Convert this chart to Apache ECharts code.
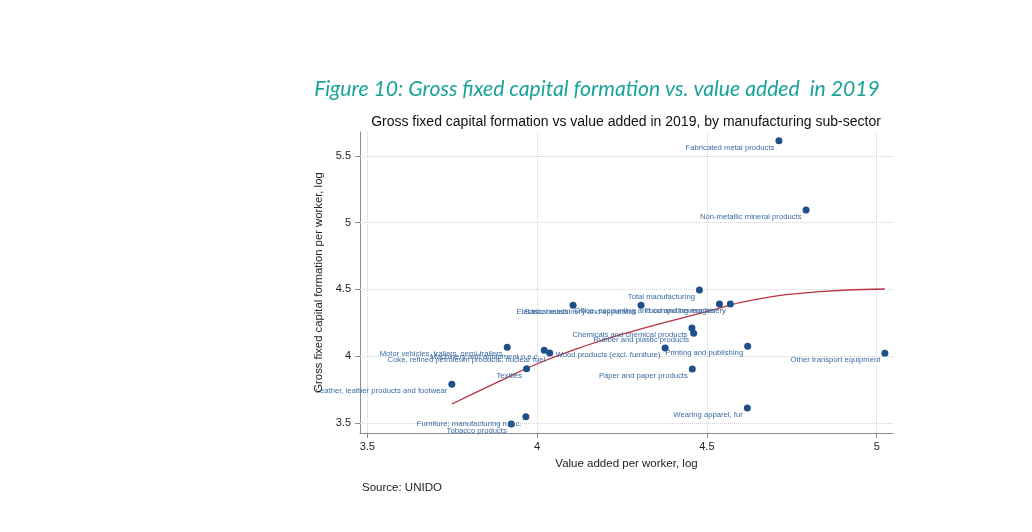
<!DOCTYPE html>
<html>
<head>
<meta charset="utf-8">
<script src="https://cdn.jsdelivr.net/npm/echarts@6/dist/echarts.min.js"></script>
<style>
  html, body { margin: 0; padding: 0; background: #fff; }
  #chart { width: 1032px; height: 532px; }
</style>
</head>
<body>
<div id="chart"></div>
<script>
// sub-sectors (log values)
const sectors = [
    'Total manufacturing',
    'Basic metals',
    'Electrical machinery and apparatus',
    'Food and beverages',
    'Office, accounting and computing machinery',
    'Chemicals and chemical products',
    'Rubber and plastic products',
    'Wood products (excl. furniture)',
    'Printing and publishing',
    'Paper and paper products',
    'Wearing apparel, fur',
    'Textiles',
    'Leather, leather products and footwear',
    'Furniture; manufacturing n.e.c.',
    'Tobacco products',
    'Motor vehicles, trailers, semi-trailers',
    'Machinery and equipment n.e.c.',
    'Coke, refined petroleum products, nuclear fuel',
    'Fabricated metal products',
    'Non-metallic mineral products',
    'Other transport equipment'
];
const valueAdded = [4.478, 4.106, 4.306, 4.537, 4.569, 4.456, 4.461, 4.377, 4.620, 4.457, 4.619,
    3.969, 3.749, 3.967, 3.924, 3.912, 4.021, 4.037, 4.712, 4.792, 5.024];
const capitalFormation = [4.496, 4.381, 4.381, 4.391, 4.391, 4.211, 4.171, 4.061, 4.074, 3.904, 3.612,
    3.906, 3.790, 3.547, 3.493, 4.067, 4.044, 4.024, 5.613, 5.094, 4.022];

// fitted curve, points
const fitX = [3.749, 3.876, 4.004, 4.121, 4.259, 4.499, 4.637, 4.833, 5.024];
const fitY = [3.642, 3.797, 3.947, 4.059, 4.171, 4.333, 4.421, 4.483, 4.503];

const xTicks = [3.5, 4, 4.5, 5];
const yTicks = [3.5, 4, 4.5, 5, 5.5];

const font = 'Liberation Sans, Arial, sans-serif';
const axisGray = '#8c8c8c';

let myChart = echarts.init(document.getElementById('chart'));

let option = {
    animation: false,
    backgroundColor: '#fff',
    textStyle: { fontFamily: font },
    graphic: [
        {
            type: 'text',
            x: 597,
            y: 89,
            style: {
                text: 'Figure 10: Gross fixed capital formation vs. value added  in 2019',
                fill: '#1aa39a',
                font: 'italic 21.2px Lato, "Open Sans", sans-serif',
                align: 'center',
                verticalAlign: 'middle'
            }
        },
        {
            type: 'text',
            x: 626,
            y: 122,
            style: {
                text: 'Gross fixed capital formation vs value added in 2019, by manufacturing sub-sector',
                fill: '#111',
                font: '14px ' + font,
                align: 'center',
                verticalAlign: 'middle'
            }
        },
        {
            type: 'text',
            x: 362,
            y: 488,
            style: {
                text: 'Source: UNIDO',
                fill: '#222',
                font: '11.5px ' + font,
                align: 'left',
                verticalAlign: 'middle'
            }
        }
    ],
    grid: {
        left: 360,
        top: 132,
        width: 533,
        height: 301
    },
    xAxis: {
        type: 'value',
        min: 3.4785,
        max: 5.048,
        name: 'Value added per worker, log',
        nameLocation: 'middle',
        nameGap: 25,
        nameTextStyle: { fontSize: 11.5, color: '#222', fontFamily: font },
        axisLine: { show: true, lineStyle: { color: axisGray, width: 1 } },
        axisTick: { show: true, length: 5, customValues: xTicks, lineStyle: { color: axisGray } },
        axisLabel: { customValues: xTicks, fontSize: 11, color: '#222', margin: 8, fontFamily: font },
        splitLine: { show: false }
    },
    yAxis: {
        type: 'value',
        min: 3.425,
        max: 5.678,
        name: 'Gross fixed capital formation per worker, log',
        nameLocation: 'middle',
        nameGap: 35,
        nameTextStyle: { fontSize: 11.3, color: '#222', fontFamily: font },
        axisLine: { show: true, lineStyle: { color: axisGray, width: 1 } },
        axisTick: { show: true, length: 5, customValues: yTicks, lineStyle: { color: axisGray } },
        axisLabel: { customValues: yTicks, fontSize: 11, color: '#222', margin: 9, fontFamily: font },
        splitLine: { show: false }
    },
    series: [
        {
            name: 'fit',
            type: 'line',
            z: 2,
            smooth: true,
            showSymbol: false,
            data: fitX.map((x, i) => [x, fitY[i]]),
            lineStyle: { color: '#b8333f', width: 1.3 },
            markLine: {
                silent: true,
                z: 1,
                symbol: ['none', 'none'],
                label: { show: false },
                lineStyle: { type: 'dotted', color: '#d2d2d2', width: 1 },
                data: xTicks.map(v => ({ xAxis: v })).concat(yTicks.map(v => ({ yAxis: v })))
            }
        },
        {
            name: 'sectors',
            type: 'scatter',
            z: 5,
            symbolSize: 7,
            data: sectors.map((s, i) => [valueAdded[i], capitalFormation[i], s]),
            itemStyle: { color: '#1f4f87', opacity: 1 },
            label: {
                show: true,
                formatter: p => p.data[2],
                position: [-1, 10.5],
                align: 'right',
                verticalAlign: 'middle',
                fontSize: 7.7,
                color: '#3c6ca3',
                fontFamily: font
            }
        }
    ]
};

myChart.setOption(option);
</script>
</body>
</html>
